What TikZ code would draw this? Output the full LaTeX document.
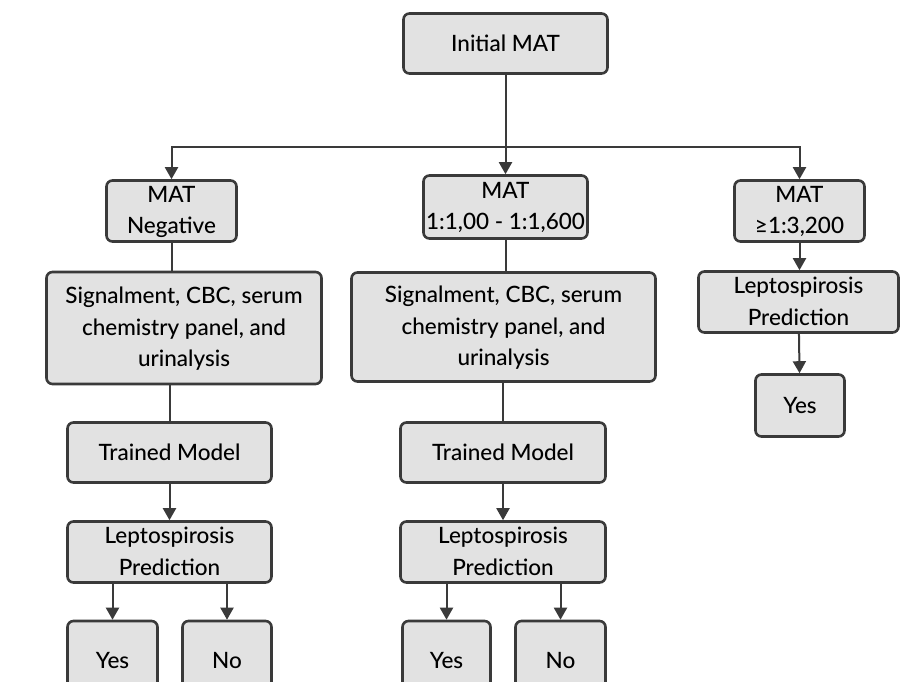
\documentclass[tikz,border=0pt]{standalone}
\usepackage{fontspec}
\setmainfont{Lato Medium}
\usetikzlibrary{arrows.meta}
\definecolor{boxfill}{HTML}{E2E2E2}
\definecolor{boxline}{HTML}{3A3A3A}

\begin{document}
\begin{tikzpicture} [x=1pt, y=1pt,
	box/.style={draw=boxline, fill=boxfill, line width=2.6pt, rounded corners=6pt, align=center, inner sep=0pt, font=\fontsize{22.5}{31.5}\selectfont},
	multi/.style={box, text depth=2pt},
	link/.style={draw=boxline, line width=2pt},
	arr/.style={link, -{Triangle[width=13pt, length=12pt]}}]
	\useasboundingbox (0, 0) rectangle (901, -681);
	\node [box, minimum width=204, minimum height=60] (init) at (505.5, -43.5) {Initial MAT};
	\node [multi, minimum width=130, minimum height=61] (neg) at (171.5, -211) {MAT\\Negative};
	\node [multi, minimum width=164, minimum height=63] (mid) at (505.5, -207) {MAT\\1:1,00 - 1:1,600};
	\node [multi, minimum width=130, minimum height=61] (hi) at (799.5, -211) {MAT\\≥1:3,200};
	\node [multi, minimum width=275, minimum height=112] (sigL) at (184, -328) {Signalment, CBC, serum\\chemistry panel, and\\urinalysis};
	\node [multi, minimum width=304, minimum height=109] (sigM) at (503.5, -327) {Signalment, CBC, serum\\chemistry panel, and\\urinalysis};
	\node [multi, minimum width=200, minimum height=61] (hiPred) at (798.5, -302) {Leptospirosis\\Prediction};
	\node [box, minimum width=89, minimum height=62] (hiYes) at (800, -405.5) {Yes};
	\node [box, minimum width=204, minimum height=60] (trL) at (169.5, -452.5) {Trained Model};
	\node [multi, minimum width=204, minimum height=61] (predL) at (169.5, -552) {Leptospirosis\\Prediction};
	\node [box, minimum width=90, minimum height=78] (yesL) at (112.5, -660) {Yes};
	\node [box, minimum width=89, minimum height=78] (noL) at (227, -660) {No};
	\node [box, minimum width=205, minimum height=60] (trM) at (503, -452.5) {Trained Model};
	\node [multi, minimum width=205, minimum height=61] (predM) at (503, -552) {Leptospirosis\\Prediction};
	\node [box, minimum width=88, minimum height=78] (yesM) at (446.5, -660) {Yes};
	\node [box, minimum width=90, minimum height=78] (noM) at (560.5, -660) {No};
	\coordinate (bus) at (505.5, -147);
	\draw [arr] (init) -- (mid);
	\draw [arr] (bus) -| (neg);
	\draw [arr] (bus) -| (hi);
	\draw [link] (neg.south) -- (neg.south |- sigL.north);
	\draw [link] (trL.north |- sigL.south) -- (trL.north);
	\draw [arr] (trL) -- (predL);
	\draw [arr] (predL.south -| yesL) -- (yesL);
	\draw [arr] (predL.south -| noL) -- (noL);
	\draw [link] (mid.south) -- (mid.south |- sigM.north);
	\draw [link] (trM.north |- sigM.south) -- (trM.north);
	\draw [arr] (trM) -- (predM);
	\draw [arr] (predM.south -| yesM) -- (yesM);
	\draw [arr] (predM.south -| noM) -- (noM);
	\draw [arr] (hi.south) -- (hi.south |- hiPred.north);
	\draw [arr] (hiPred) -- (hiYes);
\end{tikzpicture}
\end{document}
